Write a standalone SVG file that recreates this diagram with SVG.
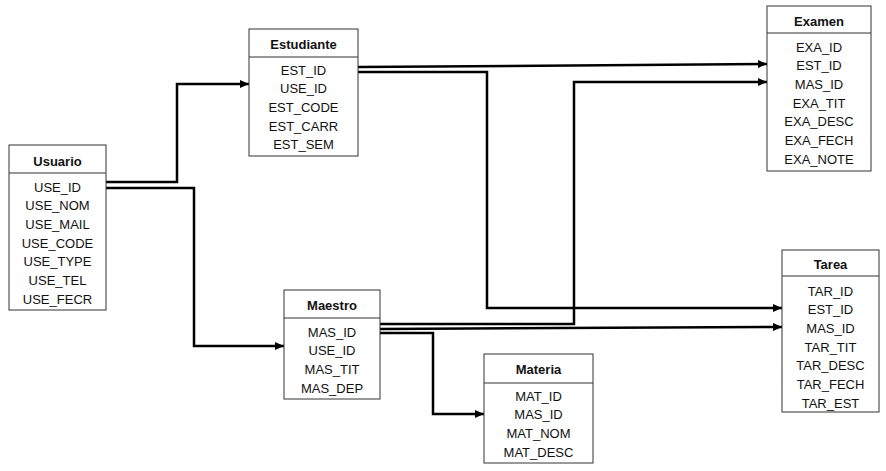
<svg xmlns="http://www.w3.org/2000/svg" width="886" height="471" viewBox="0 0 886 471">
<style>
.box{fill:#fff;stroke:#333;stroke-width:1}
.div{stroke:#333;stroke-width:1}
.t{font-family:"Liberation Sans",Arial,sans-serif;font-size:13px;fill:#111;text-anchor:middle}
.h{font-weight:bold}
.c{fill:none;stroke:#000;stroke-width:2.5;marker-end:url(#ah)}
</style>
<defs>
<marker id="ah" markerUnits="userSpaceOnUse" markerWidth="10" markerHeight="8" refX="9" refY="4" orient="auto">
<path d="M0,0 L9,4 L0,8 Z" fill="#000"/>
</marker>
</defs>
<rect width="886" height="471" fill="#fff"/>
<g id="connectors">
<path class="c" d="M106,182 H177 V84 H249"/>
<path class="c" d="M106,188 H194 V346 H284"/>
<path class="c" d="M358,67 L767,64"/>
<path class="c" d="M358,72 H487 V308 H782"/>
<path class="c" d="M380,324 H574 V82 H767"/>
<path class="c" d="M380,329 L782,327"/>
<path class="c" d="M380,333 H433 V414 H484"/>
</g>
<g id="usuario">
<rect class="box" x="9" y="145" width="97" height="165"/>
<line class="div" x1="9" y1="173" x2="106" y2="173"/>
<text class="t h" x="57.5" y="165.5">Usuario</text>
<text class="t" x="57.5" y="191.5">USE_ID</text>
<text class="t" x="57.5" y="210.2">USE_NOM</text>
<text class="t" x="57.5" y="228.9">USE_MAIL</text>
<text class="t" x="57.5" y="247.6">USE_CODE</text>
<text class="t" x="57.5" y="266.3">USE_TYPE</text>
<text class="t" x="57.5" y="285">USE_TEL</text>
<text class="t" x="57.5" y="303.7">USE_FECR</text>
</g>
<g id="estudiante">
<rect class="box" x="249" y="29" width="109" height="127"/>
<line class="div" x1="249" y1="57" x2="358" y2="57"/>
<text class="t h" x="303.5" y="48.5">Estudiante</text>
<text class="t" x="303.5" y="74.5">EST_ID</text>
<text class="t" x="303.5" y="93.2">USE_ID</text>
<text class="t" x="303.5" y="111.9">EST_CODE</text>
<text class="t" x="303.5" y="130.6">EST_CARR</text>
<text class="t" x="303.5" y="149.3">EST_SEM</text>
</g>
<g id="examen">
<rect class="box" x="767" y="6" width="104" height="165"/>
<line class="div" x1="767" y1="33" x2="871" y2="33"/>
<text class="t h" x="819" y="25.5">Examen</text>
<text class="t" x="819" y="51.5">EXA_ID</text>
<text class="t" x="819" y="70.2">EST_ID</text>
<text class="t" x="819" y="88.9">MAS_ID</text>
<text class="t" x="819" y="107.6">EXA_TIT</text>
<text class="t" x="819" y="126.3">EXA_DESC</text>
<text class="t" x="819" y="145">EXA_FECH</text>
<text class="t" x="819" y="163.7">EXA_NOTE</text>
</g>
<g id="maestro">
<rect class="box" x="284" y="290" width="96" height="109"/>
<line class="div" x1="284" y1="318" x2="380" y2="318"/>
<text class="t h" x="332" y="309.5">Maestro</text>
<text class="t" x="332" y="336.5">MAS_ID</text>
<text class="t" x="332" y="355.2">USE_ID</text>
<text class="t" x="332" y="373.9">MAS_TIT</text>
<text class="t" x="332" y="392.6">MAS_DEP</text>
</g>
<g id="materia">
<rect class="box" x="484" y="354" width="109" height="109"/>
<line class="div" x1="484" y1="383" x2="593" y2="383"/>
<text class="t h" x="538.5" y="373.5">Materia</text>
<text class="t" x="538.5" y="400.5">MAT_ID</text>
<text class="t" x="538.5" y="419.2">MAS_ID</text>
<text class="t" x="538.5" y="437.9">MAT_NOM</text>
<text class="t" x="538.5" y="456.6">MAT_DESC</text>
</g>
<g id="tarea">
<rect class="box" x="782" y="250" width="97" height="162"/>
<line class="div" x1="782" y1="276" x2="879" y2="276"/>
<text class="t h" x="830.5" y="268.5">Tarea</text>
<text class="t" x="830.5" y="295.5">TAR_ID</text>
<text class="t" x="830.5" y="314.2">EST_ID</text>
<text class="t" x="830.5" y="332.9">MAS_ID</text>
<text class="t" x="830.5" y="351.6">TAR_TIT</text>
<text class="t" x="830.5" y="370.3">TAR_DESC</text>
<text class="t" x="830.5" y="389">TAR_FECH</text>
<text class="t" x="830.5" y="407.7">TAR_EST</text>
</g>
</svg>
